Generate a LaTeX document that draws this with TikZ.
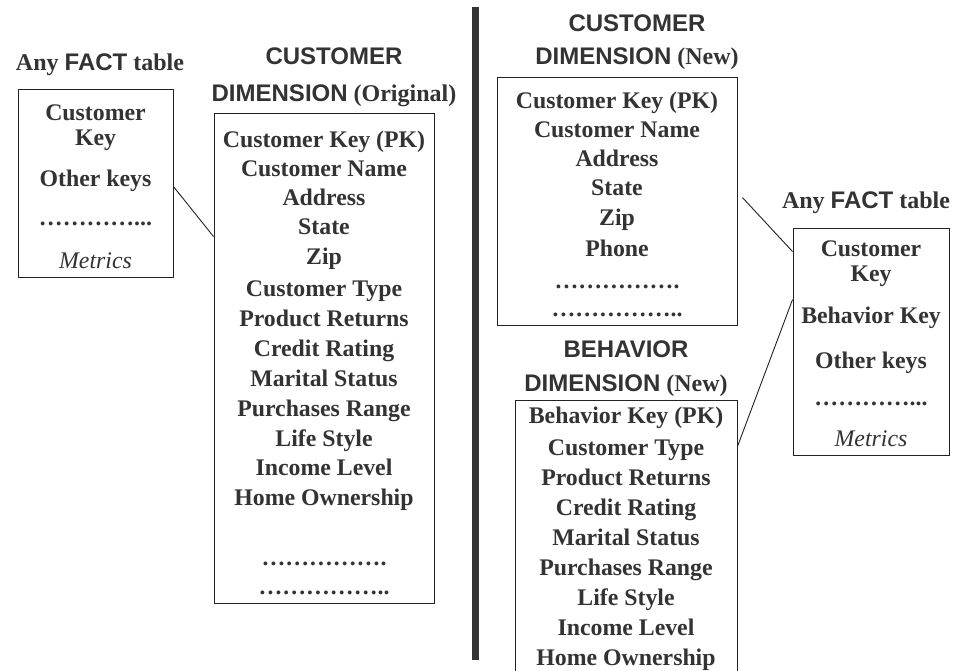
\documentclass[tikz,border=0pt]{standalone}
\usepackage{fontspec}
\setmainfont{Liberation Serif}
\setsansfont{Liberation Sans}
\definecolor{txt}{HTML}{333333}
\definecolor{edge}{HTML}{222222}
\begin{document}
\begin{tikzpicture}[x=1pt,y=-1pt,
  box/.style={draw=edge, line width=0.9pt, inner sep=0pt},
  ln/.style={anchor=base, inner sep=0pt, text=txt, font=\fontsize{23.8}{28}\selectfont\bfseries},
  mt/.style={anchor=base, inner sep=0pt, text=txt, font=\fontsize{23.8}{28}\selectfont\itshape},
  ttl/.style={anchor=base, inner sep=0pt, text=txt, font=\fontsize{24}{28}\selectfont\bfseries},
  conn/.style={draw=edge, line width=0.9pt}]
\useasboundingbox (0,0) rectangle (956,670);
\clip (0,0) rectangle (956,670);
\fill[white] (0,0) rectangle (956,670);

% boxes
\node[box, minimum width=155pt, minimum height=188pt] (fact1) at (95.5,183) {};
\node[box, minimum width=220pt, minimum height=490pt] (orig) at (324,358) {};
\node[box, minimum width=240pt, minimum height=248pt] (newc) at (617,201) {};
\node[box, minimum width=156pt, minimum height=227pt] (fact2) at (871,341.5) {};
\node[box, minimum width=222pt, minimum height=290pt] (behav) at (626,545) {};
\node[fill=txt, inner sep=0pt, minimum width=7pt, minimum height=653pt] (bar) at (475.5,333.5) {};

% titles
\node[ttl] (t1) at (100,70) {Any \textsf{FACT} table};
\node[ttl] (t2) at (334,64) {\textsf{CUSTOMER}};
\node[ttl] (t3) at (334,101) {\textsf{DIMENSION} (Original)};
\node[ttl] (t4) at (637,31) {\textsf{CUSTOMER}};
\node[ttl] (t5) at (637,64) {\textsf{DIMENSION} (New)};
\node[ttl] (t6) at (626,357) {\textsf{BEHAVIOR}};
\node[ttl] (t7) at (626,391) {\textsf{DIMENSION} (New)};
\node[ttl] (t8) at (866,208) {Any \textsf{FACT} table};

% left fact table
\foreach \y/\t [count=\i] in {112/Customer,137/Key,178/Other keys}
  \node[ln] (fa\i) at (95.5,\y+8) {\t};
\node[ln] (fad) at (95.5,225) {…………...};
\node[mt] (fam) at (95.5,268) {Metrics};

% original customer dimension
\foreach \y/\t [count=\i] in {139/Customer Key (PK),168/Customer Name,197/Address,226/State,256/Zip,288/Customer Type,318/Product Returns,348/Credit Rating,378/Marital Status,408/Purchases Range,438/Life Style,467/Income Level,497/Home Ownership}
  \node[ln] (o\i) at (324,\y+8) {\t};
\node[ln] (od1) at (324,565) {…………….};
\node[ln] (od2) at (324,594) {……………..};

% new customer dimension
\foreach \y/\t [count=\i] in {100/Customer Key (PK),129/Customer Name,158/Address,187/State,217/Zip,248/Phone}
  \node[ln] (n\i) at (617,\y+8) {\t};
\node[ln] (nd1) at (617,288) {…………….};
\node[ln] (nd2) at (617,316) {……………..};

% behavior dimension
\foreach \y/\t [count=\i] in {415/Behavior Key (PK),447/Customer Type,477/Product Returns,507/Credit Rating,537/Marital Status,567/Purchases Range,597/Life Style,627/Income Level,657/Home Ownership}
  \node[ln] (b\i) at (626,\y+8) {\t};

% right fact table
\foreach \y/\t [count=\i] in {248/Customer,273/Key,315/Behavior Key,360/Other keys}
  \node[ln] (fb\i) at (871,\y+8) {\t};
\node[ln] (fbd) at (871,405) {…………...};
\node[mt] (fbm) at (871,446) {Metrics};

% connectors
\draw[conn] ([yshift=-98pt]fact1.north east) -- ([yshift=-124pt]orig.north west);
\draw[conn] ([xshift=5pt,yshift=-121pt]newc.north east) -- ([yshift=-24pt]fact2.north west);
\draw[conn] ([yshift=-47pt]behav.north east) -- ([yshift=-72pt]fact2.north west);
\end{tikzpicture}
\end{document}
